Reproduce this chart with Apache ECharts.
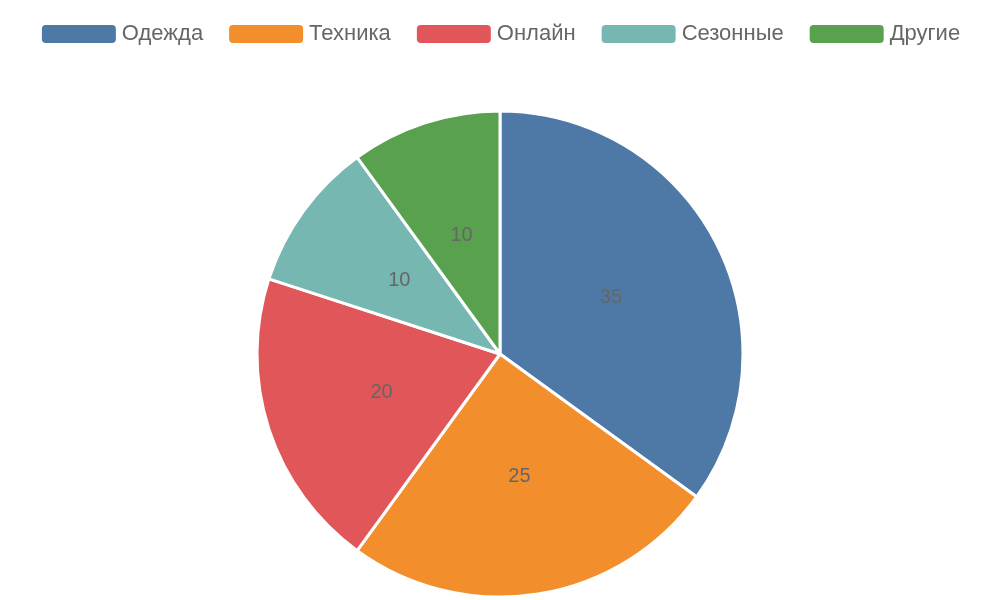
<!DOCTYPE html>
<html><head><meta charset="utf-8">
<script src="https://cdn.jsdelivr.net/npm/echarts@6/dist/echarts.min.js"></script>
<style>html,body{margin:0;padding:0}#c{width:1000px;height:600px}</style>
</head><body><div id="c"></div>
<script>
const categories = ['Одежда','Техника','Онлайн','Сезонные','Другие'];
const values = [35,25,20,10,10];
const colors = ['#4e79a7','#f28e2b','#e15759','#76b7b2','#59a14f'];
const chart = echarts.init(document.getElementById('c'));
chart.setOption({
  color: colors,
  legend: {
    top: 18, itemWidth: 76, itemHeight: 20, itemGap: 24,
    textStyle: {fontSize: 22, color: '#666', fontFamily: 'Liberation Sans'},
    data: categories
  },
  series: [{
    type: 'pie', center: ['50%','59%'], radius: '81%',
    startAngle: 90, clockwise: true,
    itemStyle: {borderColor: '#fff', borderWidth: 3},
    label: {position: 'inner', formatter: '{c}', fontSize: 20, color: '#666', fontFamily: 'Liberation Sans'},
    labelLine: {show: false},
    data: categories.map((n,i)=>({name:n, value: values[i]}))
  }]
});
</script></body></html>
